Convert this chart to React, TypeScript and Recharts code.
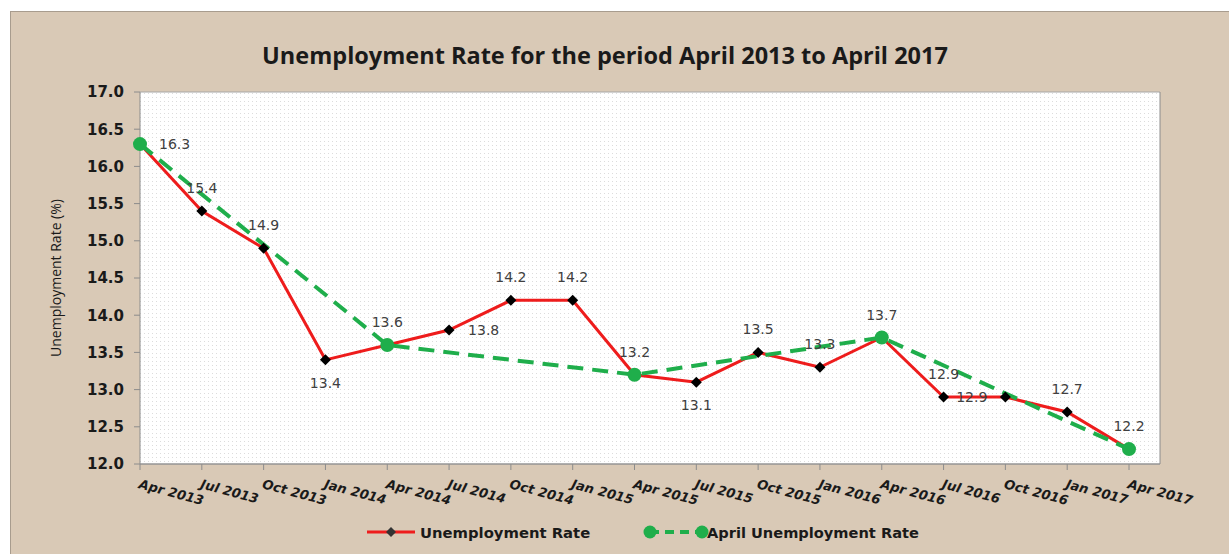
import React from "react";
import { LineChart, Line, XAxis, YAxis, CartesianGrid, LabelList, Legend, Label } from "recharts";

const categories = [
  "Apr 2013", "Jul 2013", "Oct 2013", "Jan 2014", "Apr 2014", "Jul 2014", "Oct 2014", "Jan 2015",
  "Apr 2015", "Jul 2015", "Oct 2015", "Jan 2016", "Apr 2016", "Jul 2016", "Oct 2016", "Jan 2017", "Apr 2017",
];
const unemploymentRate = [16.3, 15.4, 14.9, 13.4, 13.6, 13.8, 14.2, 14.2, 13.2, 13.1, 13.5, 13.3, 13.7, 12.9, 12.9, 12.7, 12.2];
const aprilRate: (number | null)[] = [16.3, null, null, null, 13.6, null, null, null, 13.2, null, null, null, 13.7, null, null, null, 12.2];
const yTicks = [12.0, 12.5, 13.0, 13.5, 14.0, 14.5, 15.0, 15.5, 16.0, 16.5, 17.0];
const labelPlacement = ["right", "top", "top", "bottom", "top", "right", "top", "top", "top", "bottom", "top", "top", "top", "top", "left", "top", "top"];

const TITLE = "Unemployment Rate for the period April 2013 to April 2017";
const FONT = "'Open Sans', 'Noto Sans', sans-serif";
const WIDE = "'DejaVu Sans', 'Open Sans', sans-serif";
const BG = "#d9c9b6";
const RED = "#ee1c1c";
const GREEN = "#1fae4b";

const data = categories.map((c, i) => ({ name: c, rate: unemploymentRate[i], april: aprilRate[i] }));

const Diamond = (props: any) => {
  const { cx, cy } = props;
  if (cx == null || cy == null) return null;
  const s = 5.5;
  return <path d={`M${cx},${cy - s}L${cx + s},${cy}L${cx},${cy + s}L${cx - s},${cy}Z`} fill="#000" stroke="none" />;
};

const GreenDot = (props: any) => {
  const { cx, cy, value } = props;
  if (cx == null || cy == null || value == null) return null;
  return <circle cx={cx} cy={cy} r={7} fill={GREEN} stroke="none" />;
};

const renderRateLabel = (props: any) => {
  const { x, y, value, index } = props;
  const pos = labelPlacement[index];
  let tx = x, ty = y, anchor = "middle";
  if (pos === "top") { ty = y - 18; }
  else if (pos === "bottom") { ty = y + 28; }
  else if (pos === "right") { tx = x + 19; ty = y + 5; anchor = "start"; }
  else if (pos === "left") { tx = x - 18; ty = y + 5; anchor = "end"; }
  return (
    <text x={tx} y={ty} textAnchor={anchor} fontFamily={WIDE} fontSize={14} fill="#404040">
      {Number(value).toFixed(1)}
    </text>
  );
};

const XTick = (props: any) => {
  const { x, y, payload } = props;
  return (
    <text
      x={x - 2}
      y={y + 16}
      textAnchor="start"
      transform={`rotate(15, ${x - 2}, ${y + 16})`}
      fontFamily={WIDE}
      fontSize={13}
      fontWeight={700}
      fontStyle="italic"
      fill="#1a1a1a"
    >
      {payload.value}
    </text>
  );
};

const renderLegend = () => (
  <svg width={1218} height={40} style={{ display: "block" }}>
    <line x1={356} y1={18} x2={404} y2={18} stroke={RED} strokeWidth={3} />
    <path d="M380,13L385,18L380,23L375,18Z" fill="#333" />
    <text x={409} y={23.5} fontFamily={WIDE} fontSize={14.8} fontWeight={700} fill="#1a1a1a">Unemployment Rate</text>
    <line x1={639} y1={18} x2={691} y2={18} stroke={GREEN} strokeWidth={4} strokeDasharray="9 6" />
    <circle cx={639} cy={18} r={6.5} fill={GREEN} />
    <circle cx={691} cy={18} r={6.5} fill={GREEN} />
    <text x={696} y={23.5} fontFamily={WIDE} fontSize={14.6} fontWeight={700} fill="#1a1a1a">April Unemployment Rate</text>
  </svg>
);

const YLabel = (props: any) => {
  const { viewBox } = props;
  const cx = viewBox.x + 50;
  const cy = viewBox.y + viewBox.height / 2;
  return (
    <text x={cx} y={cy} textAnchor="middle" transform={`rotate(-90, ${cx}, ${cy})`} fontFamily={FONT} fontSize={14} fill="#1a1a1a">
      Unemployment Rate (%)
    </text>
  );
};

export default function App() {
  return (
    <div
      style={{
        position: "absolute",
        left: 10,
        top: 11,
        width: 1218,
        height: 542,
        background: BG,
        borderTop: "1px solid #a89c8e",
        borderLeft: "1px solid #a89c8e",
        overflow: "hidden",
      }}
    >
      <div
        style={{
          position: "absolute",
          left: 0,
          top: 29,
          width: 1188,
          textAlign: "center",
          fontFamily: FONT,
          fontWeight: 700,
          fontSize: 23.5,
          lineHeight: "28px",
          color: "#1a1a1a",
        }}
      >
        {TITLE}
      </div>
      <LineChart width={1218} height={542} data={data} margin={{ top: 80, right: 10, left: 0, bottom: 0 }}>
        <defs>
          <pattern id="dots" width="4" height="4" patternUnits="userSpaceOnUse">
            <rect width="4" height="4" fill="#ffffff" />
            <rect x="1" y="1" width="1" height="1" fill="#dcdcdc" />
          </pattern>
        </defs>
        <CartesianGrid vertical={false} stroke="#a6a6a6" strokeWidth={1} fill="url(#dots)" />
        <XAxis
          dataKey="name"
          height={50}
          padding={{ left: 0, right: 31 }}
          tick={<XTick />}
          tickSize={6}
          interval={0}
          axisLine={{ stroke: "#8c8c8c" }}
          tickLine={{ stroke: "#8c8c8c" }}
        />
        <YAxis
          yAxisId="left"
          orientation="left"
          width={129}
          domain={[12, 17]}
          ticks={yTicks}
          tickFormatter={(v: number) => v.toFixed(1)}
          tickSize={6}
          tickMargin={10}
          interval={0}
          tick={{ fontFamily: WIDE, fontSize: 15, fontWeight: 700, fill: "#1a1a1a" }}
          axisLine={{ stroke: "#8c8c8c" }}
          tickLine={{ stroke: "#8c8c8c" }}
        >
          <Label content={<YLabel />} />
        </YAxis>
        <YAxis
          yAxisId="right"
          orientation="right"
          width={59}
          domain={[12, 17]}
          ticks={yTicks}
          tickFormatter={(v: number) => v.toFixed(1)}
          tickSize={6}
          tickMargin={12}
          interval={0}
          tick={{ fontFamily: WIDE, fontSize: 15, fontWeight: 700, fill: "#1a1a1a", textAnchor: "start" }}
          axisLine={{ stroke: "#8c8c8c" }}
          tickLine={{ stroke: "#8c8c8c" }}
        />
        <Legend verticalAlign="bottom" height={40} content={renderLegend} wrapperStyle={{ left: 0, width: 1218 }} />
        <Line
          yAxisId="left"
          type="linear"
          dataKey="rate"
          name="Unemployment Rate"
          stroke={RED}
          strokeWidth={3}
          dot={<Diamond />}
          activeDot={false}
          isAnimationActive={false}
        >
          <LabelList dataKey="rate" content={renderRateLabel} />
        </Line>
        <Line
          yAxisId="left"
          type="linear"
          dataKey="april"
          name="April Unemployment Rate"
          stroke={GREEN}
          strokeWidth={4}
          strokeDasharray="16 9"
          connectNulls
          dot={<GreenDot />}
          activeDot={false}
          isAnimationActive={false}
        />
      </LineChart>
    </div>
  );
}
